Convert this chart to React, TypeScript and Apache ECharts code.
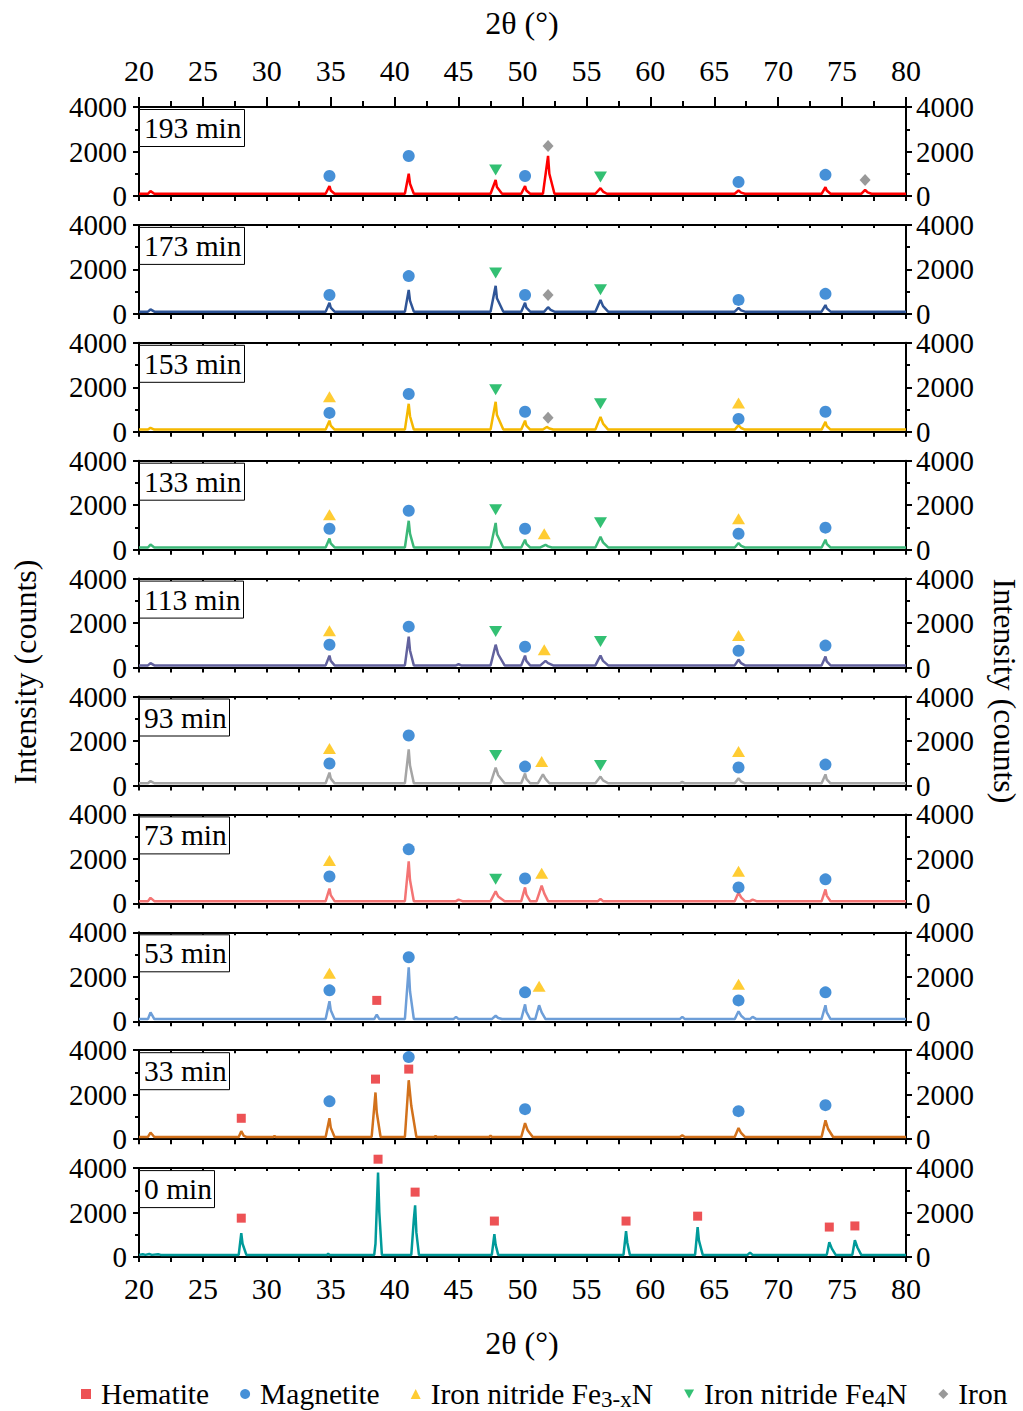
import React, { useEffect, useRef } from "react";
import * as echarts from "echarts";

const FONT = "Liberation Serif";

const panelLabels = ["193 min", "173 min", "153 min", "133 min", "113 min", "93 min", "73 min", "53 min", "33 min", "0 min"];
const lineColors = ["#ff0000", "#2f5597", "#f5b800", "#3cb878", "#62629e", "#a5a5a5", "#f47474", "#6d9ed8", "#d2711b", "#009a9a"];

const xTicks = [20, 25, 30, 35, 40, 45, 50, 55, 60, 65, 70, 75, 80];
const yTicks = [0, 2000, 4000];

const pattern193 = [[20,100],[20.7,100],[20.9,220],[21.2,100],[34.6,100],[34.9,450],[35.0,250],[35.3,100],[40.8,100],[41.1,1000],[41.2,550],[41.5,100],[47.5,100],[47.9,720],[48.0,400],[48.4,100],[49.9,100],[50.2,450],[50.3,250],[50.6,100],[51.6,100],[52.0,1800],[52.1,1000],[52.5,100],[55.7,100],[56.1,350],[56.3,200],[56.6,100],[66.6,100],[66.9,250],[67.1,150],[67.4,100],[73.4,100],[73.7,400],[73.8,250],[74.1,100],[76.5,100],[76.8,280],[77.0,160],[77.3,100],[80,100]];
const pattern173 = [[20,100],[20.7,100],[20.9,200],[21.2,100],[34.6,100],[34.9,500],[35.0,280],[35.3,100],[40.8,100],[41.1,1080],[41.2,600],[41.5,100],[47.5,100],[47.9,1260],[48.0,700],[48.5,100],[49.9,100],[50.2,500],[50.3,280],[50.6,100],[51.7,100],[52.0,300],[52.2,180],[52.5,100],[55.7,100],[56.1,630],[56.3,350],[56.7,100],[66.6,100],[66.9,270],[67.1,160],[67.4,100],[73.4,100],[73.7,400],[73.8,250],[74.1,100],[80,100]];
const pattern153 = [[20,100],[20.7,100],[20.9,180],[21.2,100],[34.6,100],[34.9,500],[35.0,280],[35.3,100],[40.8,100],[41.1,1260],[41.2,700],[41.5,100],[47.5,100],[47.9,1350],[48.0,750],[48.5,100],[49.9,100],[50.2,500],[50.3,280],[50.6,100],[51.6,100],[51.9,220],[52.1,150],[52.4,100],[55.7,100],[56.1,670],[56.3,370],[56.7,100],[66.6,100],[66.9,300],[67.1,170],[67.4,100],[73.4,100],[73.7,450],[73.8,260],[74.1,100],[80,100]];
const pattern133 = [[20,100],[20.7,100],[20.9,230],[21.2,100],[34.6,100],[34.9,500],[35.0,280],[35.3,100],[40.8,100],[41.1,1300],[41.2,720],[41.5,100],[47.5,100],[47.9,1200],[48.0,680],[48.5,100],[49.9,100],[50.2,450],[50.3,260],[50.6,100],[51.4,100],[51.8,220],[52.0,150],[52.3,100],[55.7,100],[56.1,580],[56.3,330],[56.7,100],[66.6,100],[66.9,300],[67.1,170],[67.4,100],[73.4,100],[73.7,450],[73.8,260],[74.1,100],[80,100]];
const pattern113 = [[20,100],[20.7,100],[20.9,200],[21.2,100],[34.6,100],[34.9,540],[35.0,300],[35.3,100],[40.8,100],[41.1,1390],[41.2,770],[41.5,100],[44.8,100],[45.0,150],[45.2,100],[47.5,100],[47.9,1030],[48.1,600],[48.6,100],[49.9,100],[50.2,540],[50.3,300],[50.6,100],[51.4,100],[51.8,300],[52.0,200],[52.4,100],[55.7,100],[56.1,540],[56.3,300],[56.7,100],[66.6,100],[66.9,360],[67.1,200],[67.4,100],[73.4,100],[73.7,500],[73.8,280],[74.1,100],[80,100]];
const pattern93 = [[20,100],[20.7,100],[20.9,200],[21.2,100],[34.6,100],[34.9,580],[35.0,320],[35.3,100],[40.8,100],[41.1,1620],[41.2,900],[41.5,100],[47.5,100],[47.9,800],[48.1,460],[48.6,100],[49.9,100],[50.2,540],[50.3,300],[50.6,100],[51.2,100],[51.6,500],[51.8,300],[52.1,100],[55.7,100],[56.1,400],[56.3,230],[56.7,100],[62.3,100],[62.5,160],[62.7,100],[66.6,100],[66.9,320],[67.1,180],[67.4,100],[73.4,100],[73.7,500],[73.8,280],[74.1,100],[80,100]];
const pattern73 = [[20,100],[20.7,100],[20.9,250],[21.2,100],[34.6,100],[34.9,670],[35.0,370],[35.3,100],[40.8,100],[41.1,1890],[41.2,1050],[41.5,100],[44.8,100],[45.0,170],[45.3,100],[47.5,100],[47.9,540],[48.1,310],[48.6,100],[49.9,100],[50.2,720],[50.3,400],[50.6,100],[51.1,100],[51.5,800],[51.7,450],[52.0,100],[55.9,100],[56.1,200],[56.3,100],[66.6,100],[66.9,490],[67.1,270],[67.4,100],[67.8,100],[68.0,170],[68.3,100],[73.4,100],[73.7,630],[73.8,350],[74.1,100],[80,100]];
const pattern53 = [[20,100],[20.7,100],[20.9,400],[21.2,100],[34.6,100],[34.9,900],[35.0,500],[35.3,100],[38.4,100],[38.6,300],[38.8,100],[40.8,100],[41.1,2430],[41.2,1350],[41.5,100],[44.6,100],[44.8,200],[45.0,100],[47.6,100],[47.9,250],[48.1,150],[48.4,100],[49.9,100],[50.2,760],[50.3,420],[50.6,100],[51.0,100],[51.3,720],[51.5,400],[51.8,100],[62.3,100],[62.5,200],[62.7,100],[66.6,100],[66.9,450],[67.1,250],[67.4,100],[67.8,100],[68.0,200],[68.3,100],[73.4,100],[73.7,720],[73.8,400],[74.1,100],[80,100]];
const pattern33 = [[20,100],[20.7,100],[20.9,300],[21.2,100],[27.8,100],[28.0,360],[28.2,150],[28.4,100],[30.5,100],[30.6,150],[30.7,100],[34.6,100],[34.9,940],[35.0,520],[35.3,100],[38.2,100],[38.5,2100],[38.6,1200],[38.9,100],[40.8,100],[41.1,2650],[41.3,1500],[41.7,100],[43.1,100],[43.2,150],[43.3,100],[47.4,100],[47.5,160],[47.6,100],[49.9,100],[50.2,720],[50.4,400],[50.8,100],[62.3,100],[62.5,170],[62.7,100],[66.6,100],[66.9,500],[67.1,280],[67.4,100],[73.4,100],[73.7,850],[73.9,470],[74.3,100],[80,100]];
const pattern0 = [[20,100],[20.3,130],[20.5,100],[20.8,140],[21,100],[21.5,130],[21.7,100],[27.8,100],[28.0,1080],[28.1,600],[28.4,100],[34.7,100],[34.8,150],[34.9,100],[38.4,100],[38.5,600],[38.7,3800],[38.8,2000],[39.0,100],[41.3,100],[41.5,1700],[41.6,2330],[41.7,1100],[41.9,100],[47.6,100],[47.8,1030],[47.9,550],[48.1,100],[57.9,100],[58.1,1170],[58.2,650],[58.4,100],[63.5,100],[63.7,1350],[63.8,750],[64.1,100],[67.6,100],[67.8,200],[68.0,100],[73.8,100],[74.0,670],[74.2,380],[74.5,100],[75.8,100],[76.0,760],[76.2,430],[76.5,100],[80,100]];

const patterns = [pattern193, pattern173, pattern153, pattern133, pattern113, pattern93, pattern73, pattern53, pattern33, pattern0];

// markers: [panelIndex, 2theta, intensity]
const hematiteMarks = [[7,38.6,940],[8,28.0,940],[8,38.5,2700],[8,41.1,3150],[9,28.0,1750],[9,38.7,4400],[9,41.6,2920],[9,47.8,1620],[9,58.1,1620],[9,63.7,1840],[9,74.0,1350],[9,76.0,1400]];
const magnetiteMarks = [
  [0,34.9,900],[0,41.1,1800],[0,50.2,900],[0,66.9,630],[0,73.7,950],
  [1,34.9,850],[1,41.1,1700],[1,50.2,850],[1,66.9,630],[1,73.7,900],
  [2,34.9,850],[2,41.1,1700],[2,50.2,900],[2,66.9,580],[2,73.7,900],
  [3,34.9,940],[3,41.1,1750],[3,50.2,940],[3,66.9,720],[3,73.7,990],
  [4,34.9,1030],[4,41.1,1840],[4,50.2,940],[4,66.9,760],[4,73.7,990],
  [5,34.9,990],[5,41.1,2250],[5,50.2,850],[5,66.9,810],[5,73.7,940],
  [6,34.9,1210],[6,41.1,2430],[6,50.2,1120],[6,66.9,720],[6,73.7,1080],
  [7,34.9,1390],[7,41.1,2880],[7,50.2,1300],[7,66.9,940],[7,73.7,1300],
  [8,34.9,1700],[8,41.1,3690],[8,50.2,1350],[8,66.9,1260],[8,73.7,1530]
];
const fe3xnMarks = [
  [2,34.9,1570],[2,66.9,1300],
  [3,34.9,1570],[3,51.7,720],[3,66.9,1390],
  [4,34.9,1660],[4,51.7,800],[4,66.9,1440],
  [5,34.9,1660],[5,51.5,1080],[5,66.9,1530],
  [6,34.9,1930],[6,51.5,1350],[6,66.9,1440],
  [7,34.9,2160],[7,51.3,1570],[7,66.9,1660]
];
const fe4nMarks = [
  [0,47.9,1170],[0,56.1,850],
  [1,47.9,1840],[1,56.1,1080],
  [2,47.9,1890],[2,56.1,1260],
  [3,47.9,1800],[3,56.1,1210],
  [4,47.9,1620],[4,56.1,1170],
  [5,47.9,1350],[5,56.1,900],
  [6,47.9,1080]
];
const ironMarks = [[0,52.0,2250],[0,76.8,720],[1,52.0,850],[2,52.0,630]];

const phases = [
  { name: "Hematite", marks: hematiteMarks, color: "#e8272b", symbol: "rect", size: [9, 9], rotate: 0, icon: "rect" },
  { name: "Magnetite", marks: magnetiteMarks, color: "#1874cd", symbol: "circle", size: 12, rotate: 0, icon: "circle" },
  { name: "Iron nitride Fe3-xN", marks: fe3xnMarks, color: "#ffbf00", symbol: "triangle", size: [13, 11], rotate: 0, icon: "triangle" },
  { name: "Iron nitride Fe4N", marks: fe4nMarks, color: "#00b050", symbol: "triangle", size: [13, 11], rotate: 180, icon: "path://M0,0L10,0L5,9Z" },
  { name: "Iron", marks: ironMarks, color: "#7f7f7f", symbol: "diamond", size: [11, 12], rotate: 0, icon: "diamond" },
];

const GRID_LEFT = 139;
const GRID_WIDTH = 767;
const GRID_TOP0 = 107;
const GRID_STEP = 117.9;
const GRID_H = 89;

function buildOption() {
  const n = patterns.length;
  const grid: any[] = [];
  const xAxis: any[] = [];
  const yAxis: any[] = [];
  const series: any[] = [];
  const title: any[] = [];
  const axisLineStyle = { color: "#000", width: 2 };
  const labelStyle = { fontFamily: FONT, fontSize: 29, color: "#000" };
  const plain = (v: number) => String(v);

  for (let i = 0; i < n; i++) {
    const top = GRID_TOP0 + i * GRID_STEP;
    grid.push({ left: GRID_LEFT, width: GRID_WIDTH, top, height: GRID_H, containLabel: false });
    xAxis.push({
      type: "value", gridIndex: i, position: "bottom", min: xTicks[0], max: xTicks[xTicks.length - 1], interval: 5,
      axisLine: { show: true, onZero: false, lineStyle: axisLineStyle },
      axisTick: { show: true, inside: false, length: 5, lineStyle: { color: "#000", width: 2 } },
      minorTick: { show: true, splitNumber: 2, length: 5, lineStyle: { color: "#000", width: 2 } },
      axisLabel: { show: i === n - 1, margin: 16, ...labelStyle, fontSize: 30, formatter: plain },
      splitLine: { show: false },
    });
    xAxis.push({
      type: "value", gridIndex: i, position: "top", min: xTicks[0], max: xTicks[xTicks.length - 1], interval: 5,
      axisLine: { show: true, onZero: false, lineStyle: axisLineStyle },
      axisTick: { show: true, inside: i !== 0, length: i === 0 ? 10 : 3, lineStyle: { color: "#000", width: 2 } },
      minorTick: { show: true, splitNumber: 2, length: i === 0 ? 6 : 3, lineStyle: { color: "#000", width: 2 } },
      axisLabel: { show: i === 0, margin: 22, ...labelStyle, fontSize: 30, formatter: plain },
      splitLine: { show: false },
    });
    yAxis.push({
      type: "value", gridIndex: i, position: "left", min: yTicks[0], max: yTicks[yTicks.length - 1], interval: 2000,
      axisLine: { show: true, onZero: false, lineStyle: axisLineStyle },
      axisTick: { show: true, inside: false, length: 6, lineStyle: { color: "#000", width: 2 } },
      minorTick: { show: true, splitNumber: 2, length: 4, lineStyle: { color: "#000", width: 2 } },
      axisLabel: { show: true, margin: 12, ...labelStyle, formatter: plain },
      splitLine: { show: false },
    });
    yAxis.push({
      type: "value", gridIndex: i, position: "right", min: yTicks[0], max: yTicks[yTicks.length - 1], interval: 2000,
      axisLine: { show: true, onZero: false, lineStyle: axisLineStyle },
      axisTick: { show: true, inside: false, length: 6, lineStyle: { color: "#000", width: 2 } },
      minorTick: { show: true, splitNumber: 2, length: 4, lineStyle: { color: "#000", width: 2 } },
      axisLabel: { show: true, margin: 10, ...labelStyle, formatter: plain },
      splitLine: { show: false },
    });

    series.push({
      type: "line", name: panelLabels[i], xAxisIndex: 2 * i, yAxisIndex: 2 * i,
      data: patterns[i], showSymbol: false, symbol: "none", silent: true,
      lineStyle: { color: lineColors[i], width: 2.5 }, z: 2,
    });

    title.push({
      text: panelLabels[i], left: GRID_LEFT, top: top + 2,
      borderColor: "#000", borderWidth: 1, backgroundColor: "#fff",
      padding: [4, 3, 4, 5],
      textStyle: { fontFamily: FONT, fontSize: 29.5, fontWeight: "normal", color: "#000" },
    });
  }

  phases.forEach((p) => {
    for (let i = 0; i < n; i++) {
      const pts = p.marks.filter((m) => m[0] === i).map((m) => [m[1], m[2]]);
      if (!pts.length) continue;
      series.push({
        type: "scatter", name: p.name, xAxisIndex: 2 * i, yAxisIndex: 2 * i,
        data: pts, symbol: p.symbol, symbolSize: p.size, symbolRotate: p.rotate,
        itemStyle: { color: p.color }, clip: false, z: 5, silent: true,
      });
    }
  });

  return {
    animation: false,
    backgroundColor: "#fff",
    title,
    grid,
    xAxis,
    yAxis,
    series,
    legend: {
      top: 1372, left: 76, padding: [0, 5, 0, 5], itemGap: 31, itemWidth: 10, itemHeight: 10, selectedMode: false,
      data: phases.map((p) => ({ name: p.name, icon: p.icon, itemStyle: { color: p.color } })),
      formatter: (name: string) => {
        if (name === "Iron nitride Fe3-xN") return "Iron nitride Fe{sub|3-x}N";
        if (name === "Iron nitride Fe4N") return "Iron nitride Fe{sub|4}N";
        return name;
      },
      textStyle: {
        fontFamily: FONT, fontSize: 29.5, color: "#000", lineHeight: 34, padding: [0, 0, 0, 5],
        rich: { sub: { fontFamily: FONT, fontSize: 23, lineHeight: 18, padding: [16, 0, 0, 0], verticalAlign: "bottom", color: "#000" } },
      },
    },
    graphic: [
      { type: "text", x: 522, y: 7, style: { text: "2θ (°)", fontFamily: FONT, fontSize: 32, fill: "#000", align: "center" } },
      { type: "text", x: 522, y: 1327, style: { text: "2θ (°)", fontFamily: FONT, fontSize: 32, fill: "#000", align: "center" } },
      { type: "text", x: 9, y: 672, rotation: Math.PI / 2, style: { text: "Intensity (counts)", fontFamily: FONT, fontSize: 32, fill: "#000", align: "center", verticalAlign: "top" } },
      { type: "text", x: 1021, y: 691, rotation: -Math.PI / 2, style: { text: "Intensity (counts)", fontFamily: FONT, fontSize: 32, fill: "#000", align: "center", verticalAlign: "top" } },
    ],
  };
}

export default function App() {
  const ref = useRef<HTMLDivElement>(null);
  useEffect(() => {
    if (!ref.current) return;
    const chart = echarts.init(ref.current, undefined, { renderer: "svg" });
    chart.setOption(buildOption() as any);
    return () => chart.dispose();
  }, []);
  return <div ref={ref} style={{ position: "fixed", left: 0, top: 0, width: 1023, height: 1411, background: "#fff" }} />;
}
